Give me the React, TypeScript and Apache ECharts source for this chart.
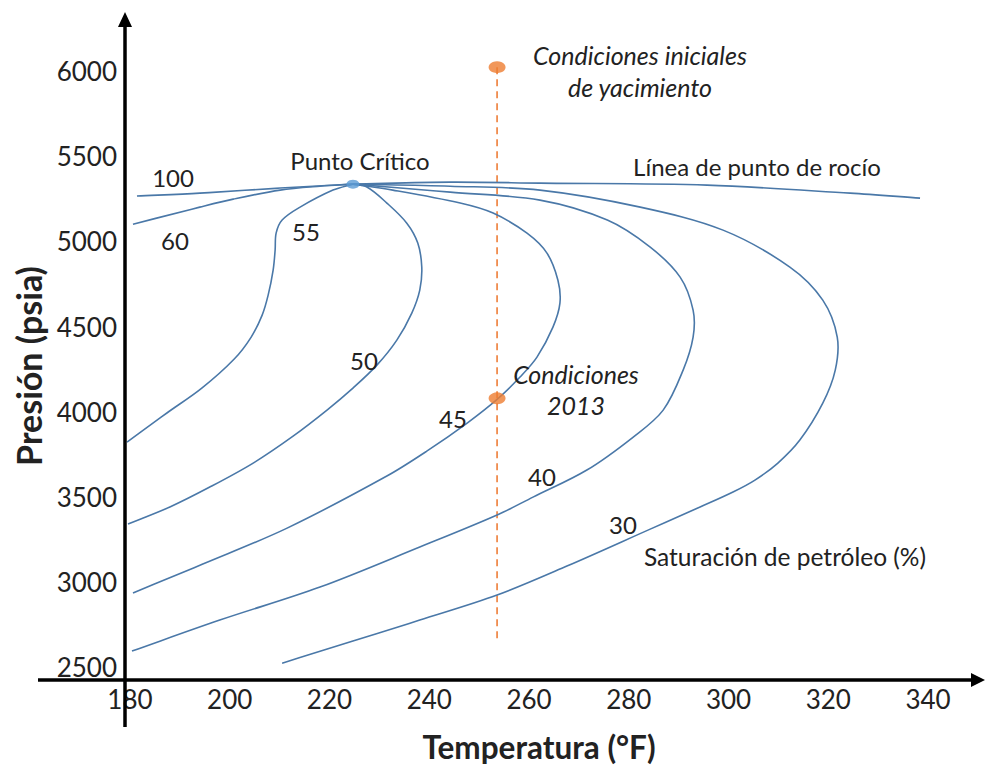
import React, { useEffect, useRef } from "react";
import * as echarts from "echarts";

// Tick labels
const xTicks = [180, 200, 220, 240, 260, 280, 300, 320, 340];
const yTicks = [2500, 3000, 3500, 4000, 4500, 5000, 5500, 6000];

// Critical point (°F, psia)
const criticalPoint: [number, number] = [224.7, 5336];

// Dew point line (right of critical point)
const dewLine: [number, number][] = [
  [224.7, 5336], [244.2, 5348], [262.2, 5342], [295.7, 5330], [324.4, 5283], [338.4, 5254],
];

// 100 % line (left of critical point)
const line100: [number, number][] = [
  [181.4, 5266], [194.0, 5283], [210.1, 5313], [224.7, 5336],
];

const line60: [number, number][] = [
  [180.6, 5101], [194.0, 5201], [200.7, 5248], [210.1, 5301], [218.1, 5324], [224.7, 5336],
];

const line55: [number, number][] = [
  [224.7, 5336], [220.7, 5301], [214.1, 5201], [210.5, 5125], [209.3, 5048], [209.1, 4949],
  [208.7, 4831], [207.7, 4684], [206.5, 4567], [204.3, 4438], [200.9, 4309], [194.4, 4138],
  [187.4, 3992], [179.4, 3821],
];

const line50: [number, number][] = [
  [224.7, 5336], [227.5, 5319], [231.5, 5225], [235.5, 5107], [237.7, 4990], [238.5, 4849],
  [238.1, 4714], [236.5, 4579], [233.5, 4420], [229.5, 4273], [224.7, 4138], [219.5, 4009],
  [212.7, 3856], [204.7, 3698], [196.0, 3557], [188.0, 3440], [179.6, 3340],
];

const line45: [number, number][] = [
  [224.7, 5336], [232.7, 5301], [246.2, 5225], [252.8, 5166], [259.6, 5048], [263.6, 4931],
  [265.8, 4772], [266.2, 4637], [264.8, 4496], [261.6, 4320], [258.2, 4203], [253.6, 4072],
  [247.6, 3933], [239.5, 3768], [231.5, 3622], [211.5, 3316], [194.6, 3105], [180.6, 2935],
];

const line40: [number, number][] = [
  [224.7, 5336], [244.2, 5289], [262.2, 5242], [275.7, 5125], [284.3, 4966], [290.3, 4790],
  [292.9, 4596], [292.9, 4438], [290.9, 4244], [286.9, 4009], [280.9, 3851], [271.6, 3657],
  [260.8, 3498], [253.6, 3393], [238.1, 3205], [218.1, 2970], [198.0, 2776], [180.4, 2594],
];

const line30: [number, number][] = [
  [224.7, 5336], [244.2, 5324], [262.2, 5301], [282.3, 5201], [298.9, 5066], [312.3, 4849],
  [318.9, 4655], [321.8, 4438], [321.4, 4244], [318.9, 4050], [314.3, 3833], [309.9, 3698],
  [305.3, 3598], [300.9, 3528], [294.3, 3440], [284.3, 3310], [267.6, 3093], [253.6, 2923],
  [238.1, 2776], [224.7, 2653], [210.5, 2523],
];

// Reservoir conditions
const initialConditions: [number, number] = [253.6, 6023];
const conditions2013: [number, number] = [253.6, 4078];
const dashedLine: [number, number][] = [[253.6, 6023], [253.6, 2641]];

const curveNames = ["Línea de punto de rocío", "100", "60", "55", "50", "45", "40", "30"];
const curves = [dewLine, line100, line60, line55, line50, line45, line40, line30];

const FONT = "Lato, 'Open Sans', sans-serif";
const CURVE_COLOR = "#4A78A8";

// Smooth path through pixel points (chord-length Hermite spline)
function splinePath(pts: number[][]): string {
  const n = pts.length;
  const tan = pts.map((_, i) => {
    const a = pts[Math.max(0, i - 1)];
    const b = pts[Math.min(n - 1, i + 1)];
    const dx = b[0] - a[0];
    const dy = b[1] - a[1];
    const L = Math.hypot(dx, dy) || 1;
    return [dx / L, dy / L];
  });
  let d = `M${pts[0][0]},${pts[0][1]}`;
  for (let i = 0; i < n - 1; i++) {
    const p = pts[i];
    const q = pts[i + 1];
    const L = Math.hypot(q[0] - p[0], q[1] - p[1]) / 3;
    d += ` C${p[0] + tan[i][0] * L},${p[1] + tan[i][1] * L} ${q[0] - tan[i + 1][0] * L},${
      q[1] - tan[i + 1][1] * L
    } ${q[0]},${q[1]}`;
  }
  return d;
}

export default function App() {
  const ref = useRef<HTMLDivElement>(null);

  useEffect(() => {
    if (!ref.current) return;
    const chart = echarts.init(ref.current, undefined, { renderer: "svg" });

    const txt = (text: string, x: number, y: number, size = 24, extra: any = {}) => ({
      type: "text",
      x,
      y,
      z: 10,
      style: {
        text,
        fill: "#222",
        font: `${extra.fontStyle || "normal"} ${extra.fontWeight || "normal"} ${size}px ${FONT}`,
        align: "center",
        verticalAlign: "middle",
      },
      rotation: extra.rotation || 0,
    });

    chart.setOption({
      animation: false,
      backgroundColor: "#fff",
      grid: { left: 125, top: 20, width: 852.9, height: 660 },
      xAxis: {
        type: "value",
        min: 179,
        max: 350,
        axisLine: { show: false },
        axisTick: { show: false },
        splitLine: { show: false },
        axisLabel: {
          customValues: xTicks,
          fontFamily: FONT,
          fontSize: 26,
          color: "#222",
          margin: 6,
          formatter: (v: number) => String(v),
        },
      },
      yAxis: {
        type: "value",
        min: 2424,
        max: 6300,
        axisLine: { show: false },
        axisTick: { show: false },
        splitLine: { show: false },
        axisLabel: {
          customValues: yTicks,
          fontFamily: FONT,
          fontSize: 26,
          color: "#222",
          margin: 8,
          formatter: (v: number) => String(v),
        },
      },
      series: [
        {
          name: "dashed",
          type: "line",
          data: dashedLine,
          symbol: "none",
          lineStyle: { color: "#F08C4E", width: 1.8, type: [7, 5] },
          z: 1,
        },
        {
          name: "curves",
          type: "custom",
          coordinateSystem: "cartesian2d",
          data: curves.map((c, i) => ({ name: curveNames[i], value: c[0] })),
          renderItem: (params: any, api: any) => {
            const pts = curves[params.dataIndex].map((p) => api.coord(p));
            return {
              type: "path",
              shape: { pathData: splinePath(pts) },
              style: { stroke: CURVE_COLOR, lineWidth: 1.6, fill: "none" },
            };
          },
          silent: true,
          z: 2,
        },
        {
          name: "Punto Crítico",
          type: "scatter",
          data: [criticalPoint],
          symbol: "circle",
          symbolSize: [13, 9],
          itemStyle: { color: "#5B9BD5" },
          z: 5,
        },
        {
          name: "Condiciones",
          type: "scatter",
          data: [initialConditions, conditions2013],
          symbol: "circle",
          symbolSize: [17, 12],
          itemStyle: { color: "#ED7D31" },
          z: 5,
        },
      ],
      graphic: [
        // axes
        { type: "line", shape: { x1: 125, y1: 22, x2: 125, y2: 727 }, style: { stroke: "#000", lineWidth: 3.5 }, z: 8 },
        { type: "polygon", shape: { points: [[125, 12], [118, 27], [132, 27]] }, style: { fill: "#000" }, z: 8 },
        { type: "line", shape: { x1: 38, y1: 680, x2: 975, y2: 680 }, style: { stroke: "#000", lineWidth: 3.5 }, z: 8 },
        { type: "polygon", shape: { points: [[985, 680], [971, 673], [971, 687]] }, style: { fill: "#000" }, z: 8 },
        // axis titles
        txt("Presión (psia)", 28, 366, 34, { fontWeight: "bold", rotation: Math.PI / 2 }),
        txt("Temperatura (°F)", 539, 747, 31.5, { fontWeight: "bold" }),
        // curve labels
        txt("100", 173, 177),
        txt("60", 175, 240),
        txt("55", 306, 231),
        txt("50", 364, 360),
        txt("45", 453, 418),
        txt("40", 542, 476),
        txt("30", 623, 524),
        txt("Punto Crítico", 360, 160),
        txt("Línea de punto de rocío", 757, 166),
        txt("Saturación de petróleo (%)", 785, 556, 24.5),
        txt("Condiciones iniciales", 640, 55, 25, { fontStyle: "italic" }),
        txt("de yacimiento", 640, 87, 25, { fontStyle: "italic" }),
        txt("Condiciones", 576, 374, 25, { fontStyle: "italic" }),
        txt("2013", 576, 405, 25, { fontStyle: "italic" }),
      ],
    });

    return () => chart.dispose();
  }, []);

  return (
    <div
      ref={ref}
      style={{ position: "absolute", left: 0, top: 0, width: 985, height: 766, background: "#fff" }}
    />
  );
}
